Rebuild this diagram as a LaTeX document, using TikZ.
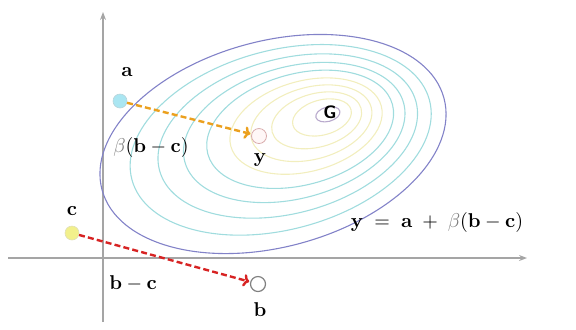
\documentclass[tikz,border=0pt]{standalone}
\usetikzlibrary{arrows.meta,calc,positioning}
\definecolor{axisgrey}{RGB}{165,165,165}
\definecolor{ringouter}{RGB}{130,130,200}
\definecolor{ringcyan}{RGB}{160,220,222}
\definecolor{ringyellow}{RGB}{242,238,190}
\definecolor{ringg}{RGB}{185,170,205}
\definecolor{stepgold}{RGB}{235,160,30}
\definecolor{stepred}{RGB}{215,35,35}
\definecolor{betagrey}{RGB}{125,125,125}
\definecolor{ptblue}{RGB}{170,230,242}
\definecolor{ptyellow}{RGB}{242,240,140}
\newcommand{\vb}[1]{\mathbf{#1}}
\newcommand{\betag}{{\color{betagrey}\beta}}
\begin{document}
\begin{tikzpicture}[
  x=0.5pt, y=-0.5pt,
  axis/.style={draw=axisgrey, line width=0.8pt, -{Stealth[length=4pt,width=3pt]}},
  pt/.style={circle, inner sep=0pt, minimum size=7pt},
  lbl/.style={inner sep=1pt},
  move/.style={line width=1.2pt, dash pattern=on 3pt off 1.6pt, -{To[length=3pt]}, shorten >=0.5pt}
]
\useasboundingbox (0,0) rectangle (576,329);

% axes
\coordinate (xs) at (8,258);
\coordinate (xe) at (527,258);
\coordinate (ys) at (103,322);
\coordinate (ye) at (103,12);
\draw[axis] (xs) -- (xe);
\draw[axis] (ys) -- (ye);

% level curves around G
\coordinate (oc) at (273,144);
\coordinate (gc) at (332,112);
\foreach \t/\rc in {1/ringouter, 0.87/ringcyan, 0.75/ringcyan, 0.64/ringcyan, 0.54/ringcyan,
                   0.44/ringyellow, 0.35/ringyellow, 0.26/ringyellow, 0.17/ringyellow, 0.07/ringg}{
  \begin{scope}[shift={($(gc)!\t!(oc)$)}, rotate=15]
    \draw[\rc, line width=0.55pt] (0,0) ellipse [x radius={177*\t}, y radius={103*\t}];
  \end{scope}
}
\node[font=\sffamily\bfseries\small, inner sep=0pt] (G) at (330,112) {G};

% points
\node[pt, fill=ptblue, draw=ptblue!80!black!60, line width=0.3pt] (a) at (120,101) {};
\node[pt, draw=pink!70!gray, fill=pink!12, line width=0.4pt, minimum size=7.5pt] (y) at (259,136) {};
\node[pt, fill=ptyellow, draw=ptyellow!80!black!50, line width=0.3pt] (c) at (72,233) {};
\node[pt, draw=gray, fill=white, line width=0.6pt, minimum size=7.5pt] (b) at (258,284) {};

% labels
\node[lbl] (la) at (127,72) {$\vb{a}$};
\node[lbl] (ly) at (260,160) {$\vb{y}$};
\node[lbl] (lc) at (72,211) {$\vb{c}$};
\node[lbl] (lb) at (260,310) {$\vb{b}$};
\node[lbl] (lstep) at (151,147) {$\betag(\vb{b}-\vb{c})$};
\node[lbl] (ldiff) at (133,283) {$\vb{b}-\vb{c}$};
\node[lbl] (lrule) at (437,222) {$\vb{y}\;=\;\vb{a}\;+\;\betag(\vb{b}-\vb{c})$};

% moves
\draw[move, stepgold] (a) -- (y);
\draw[move, stepred] (c) -- (b);
\end{tikzpicture}
\end{document}
